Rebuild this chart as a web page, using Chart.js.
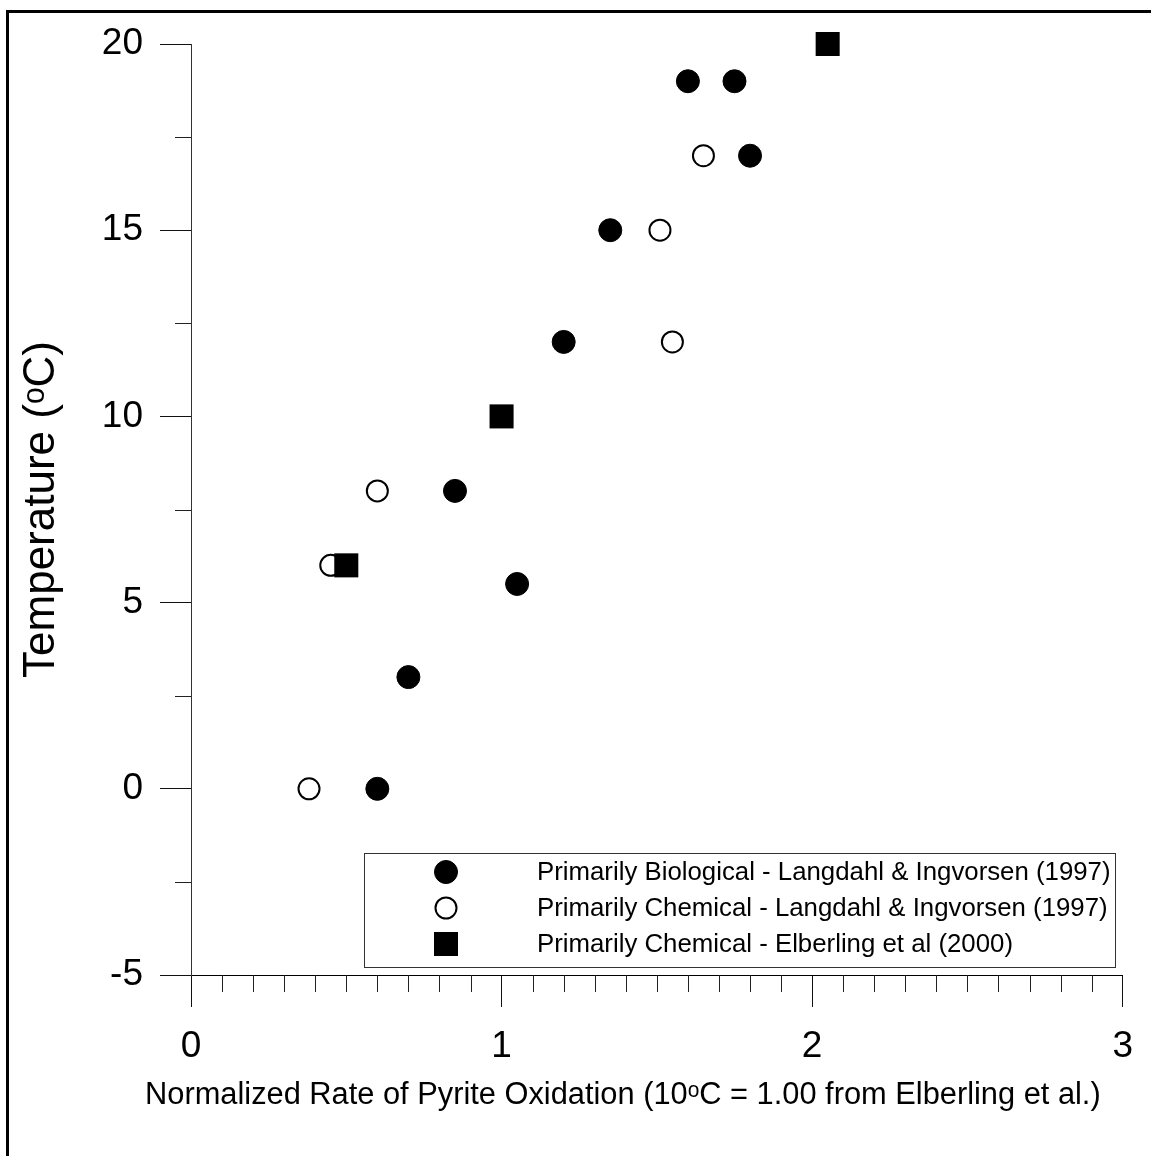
<!DOCTYPE html>
<html>
<head>
<meta charset="utf-8">
<script src="https://cdn.jsdelivr.net/npm/chart.js@4.4.1/dist/chart.umd.min.js"></script>
<style>
  html, body { margin: 0; padding: 0; background: #fff; }
  canvas { display: block; }
</style>
</head>
<body>
<canvas id="myChart" width="1151" height="1156"></canvas>
<script>
// data
const bioX = [1.60, 1.75, 1.80, 1.35, 1.20, 0.85, 1.05, 0.70, 0.60];
const bioY = [19, 19, 17, 15, 12, 8, 5.5, 3, 0];
const chemX = [1.65, 1.51, 1.55, 0.60, 0.45, 0.38];
const chemY = [17, 15, 12, 8, 6, 0];
const elbX = [2.05, 1.00, 0.50];
const elbY = [20, 10, 6];
const seriesNames = [
  'Primarily Biological - Langdahl & Ingvorsen (1997)',
  'Primarily Chemical - Langdahl & Ingvorsen (1997)',
  'Primarily Chemical - Elberling et al (2000)'
];
const xMajor = [0, 1, 2, 3];
const yMajor = [-5, 0, 5, 10, 15, 20];
const xMinorStep = 0.1;
const yMinorStep = 2.5;
const xTitle = 'Normalized Rate of Pyrite Oxidation (10\u1D52C = 1.00 from Elberling et al.)';
const yTitle = 'Temperature (\u1D52C)';

const FONT = "'Liberation Sans', Arial, 'DejaVu Sans', sans-serif";

function pts(xs, ys) {
  let out = [];
  for (let i = 0; i < xs.length; i++) out.push({x: xs[i], y: ys[i]});
  return out;
}

// page frame (only top and left edges fall inside the picture)
const framePlugin = {
  id: 'frame',
  afterDraw(chart) {
    const ctx = chart.ctx;
    ctx.save();
    ctx.fillStyle = '#000';
    ctx.fillRect(6, 10, 3, chart.height);
    ctx.fillRect(6, 10, chart.width, 3);
    ctx.restore();
  }
};

// x title is wider than the plot, so the built-in one would squeeze it
const xTitlePlugin = {
  id: 'xTitle',
  afterDraw(chart) {
    const ctx = chart.ctx;
    const xs = chart.scales.x;
    ctx.save();
    ctx.font = '30.8px ' + FONT;
    ctx.fillStyle = '#000';
    ctx.textAlign = 'center';
    ctx.textBaseline = 'alphabetic';
    ctx.fillText(xTitle, (xs.left + xs.right) / 2 - 34, xs.top + 129);
    ctx.restore();
  }
};

// short minor ticks between the major ones
const minorTicks = {
  id: 'minorTicks',
  afterDraw(chart) {
    const ctx = chart.ctx;
    const xs = chart.scales.x, ys = chart.scales.y;
    ctx.save();
    ctx.strokeStyle = '#222';
    ctx.lineWidth = 1;
    ctx.beginPath();
    const nx = Math.round((xs.max - xs.min) / xMinorStep);
    for (let i = 1; i < nx; i++) {
      if (i % 10 === 0) continue;
      const px = Math.round(xs.getPixelForValue(xs.min + i * xMinorStep)) + 0.5;
      ctx.moveTo(px, ys.bottom);
      ctx.lineTo(px, ys.bottom + 17);
    }
    const ny = Math.round((ys.max - ys.min) / yMinorStep);
    for (let i = 1; i < ny; i++) {
      if (i % 2 === 0) continue;
      const py = Math.round(ys.getPixelForValue(ys.min + i * yMinorStep)) + 0.5;
      ctx.moveTo(xs.left - 16, py);
      ctx.lineTo(xs.left, py);
    }
    ctx.stroke();
    ctx.restore();
  }
};

// boxed legend in the lower right of the plot
const boxLegend = {
  id: 'boxLegend',
  afterDraw(chart) {
    const ctx = chart.ctx;
    const x0 = 364, y0 = 853, w = 751, h = 114;
    ctx.save();
    ctx.fillStyle = '#fff';
    ctx.fillRect(x0, y0, w, h);
    ctx.strokeStyle = '#333';
    ctx.lineWidth = 1;
    ctx.strokeRect(x0 + 0.5, y0 + 0.5, w, h);
    ctx.font = '25.8px ' + FONT;
    ctx.textBaseline = 'middle';
    chart.data.datasets.forEach((ds, i) => {
      const cy = 872 + i * 36;
      ctx.fillStyle = ds.backgroundColor;
      ctx.strokeStyle = ds.borderColor;
      ctx.lineWidth = ds.pointBorderWidth;
      Chart.helpers.drawPoint(ctx, {
        pointStyle: ds.pointStyle,
        radius: ds.pointRadius,
        borderWidth: ds.pointBorderWidth,
        rotation: 0
      }, 446, cy);
      ctx.fillStyle = '#000';
      ctx.fillText(ds.label, 537, cy + 1);
    });
    ctx.restore();
  }
};

const ctx = document.getElementById('myChart');
new Chart(ctx, {
  type: 'scatter',
  data: {
    datasets: [{
      label: seriesNames[0],
      data: pts(bioX, bioY),
      pointStyle: 'circle',
      pointRadius: 11.5,
      pointBorderWidth: 1,
      backgroundColor: '#000',
      borderColor: '#000',
      clip: false,
      order: 2
    }, {
      label: seriesNames[1],
      data: pts(chemX, chemY),
      pointStyle: 'circle',
      pointRadius: 10.5,
      pointBorderWidth: 2,
      backgroundColor: '#fff',
      borderColor: '#000',
      clip: false,
      order: 1
    }, {
      label: seriesNames[2],
      data: pts(elbX, elbY),
      pointStyle: 'rect',
      pointRadius: 17,
      pointBorderWidth: 0,
      backgroundColor: '#000',
      borderColor: '#000',
      clip: false,
      order: 0
    }]
  },
  options: {
    responsive: false,
    animation: false,
    devicePixelRatio: 1,
    layout: { padding: { top: 44, right: 27, left: 0, bottom: 0 } },
    plugins: {
      legend: { display: false },
      tooltip: { enabled: false }
    },
    scales: {
      x: {
        type: 'linear',
        min: 0,
        max: 3,
        afterBuildTicks: (s) => { s.ticks = xMajor.map(v => ({value: v})); },
        afterFit: (s) => { s.height = 181; },
        grid: { drawOnChartArea: false, tickLength: 32, color: '#111', tickWidth: 1 },
        border: { display: true, color: '#000', width: 1 },
        ticks: {
          color: '#000',
          font: { family: FONT, size: 37 },
          padding: 18,
          maxRotation: 0,
          callback: (v) => String(v)
        },
        title: { display: false }
      },
      y: {
        type: 'linear',
        min: -5,
        max: 20,
        afterBuildTicks: (s) => { s.ticks = yMajor.map(v => ({value: v})); },
        afterFit: (s) => { s.width = 191; },
        grid: { drawOnChartArea: false, tickLength: 31, color: '#111', tickWidth: 1 },
        border: { display: true, color: '#333', width: 1 },
        ticks: {
          color: '#000',
          font: { family: FONT, size: 37 },
          padding: 17,
          callback: (v) => String(v)
        },
        title: {
          display: true,
          text: yTitle,
          color: '#000',
          font: { family: FONT, size: 44 },
          padding: { top: 15, bottom: 0 }
        }
      }
    }
  },
  plugins: [minorTicks, boxLegend, xTitlePlugin, framePlugin]
});
</script>
</body>
</html>
